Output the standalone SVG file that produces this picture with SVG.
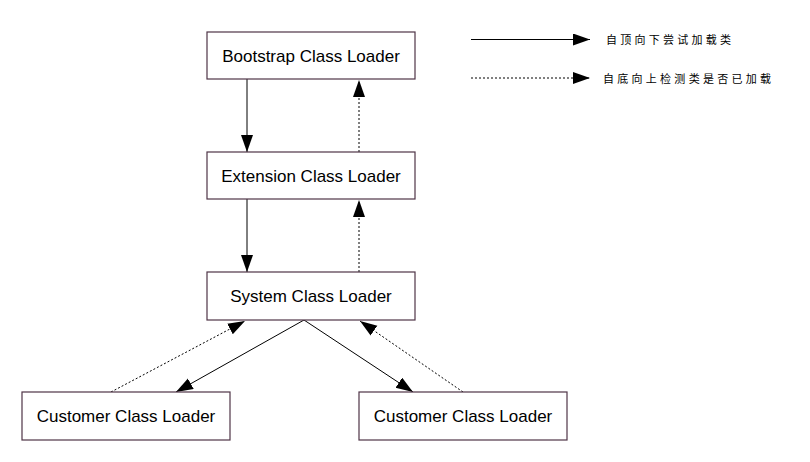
<svg xmlns="http://www.w3.org/2000/svg" width="810" height="462" viewBox="0 0 810 462">
<style>
.box{fill:#ffffff;stroke:#4f3447;stroke-width:1.2}
.lbl{font-family:"Liberation Sans",Arial,sans-serif;font-size:17px;fill:#000;text-anchor:middle}
.solid{stroke:#000;stroke-width:1;fill:none}
.dot{stroke:#000;stroke-width:1;fill:none;stroke-dasharray:2,2}
.cjk{font-family:"Noto Sans CJK SC","Noto Sans CJK JP",sans-serif;font-size:11px;fill:#000}
</style>
<defs>
<marker id="ah" markerUnits="userSpaceOnUse" markerWidth="18" markerHeight="13" refX="17" refY="6" orient="auto">
<path d="M0,0 L17,6 L0,12 z" fill="#000"/>
</marker>
</defs>
<rect width="810" height="462" fill="#fff"/>
<g id="connectors">
<line class="solid" x1="247" y1="79" x2="247" y2="152" marker-end="url(#ah)"/>
<line class="dot" x1="359" y1="152" x2="359" y2="80" marker-end="url(#ah)"/>
<line class="solid" x1="247" y1="199" x2="247" y2="272" marker-end="url(#ah)"/>
<line class="dot" x1="359" y1="272" x2="359" y2="200" marker-end="url(#ah)"/>
<line class="solid" x1="304" y1="320" x2="176" y2="392" marker-end="url(#ah)"/>
<line class="solid" x1="304" y1="320" x2="413" y2="392" marker-end="url(#ah)"/>
<line class="dot" x1="111" y1="392" x2="245" y2="321" marker-end="url(#ah)"/>
<line class="dot" x1="463" y1="392" x2="360" y2="321" marker-end="url(#ah)"/>
</g>
<g id="legend">
<line class="solid" x1="471" y1="39.5" x2="590" y2="39.5" marker-end="url(#ah)"/>
<text class="cjk" x="606" y="44" textLength="125" lengthAdjust="spacing">自顶向下尝试加载类</text>
<line class="dot" x1="471" y1="78" x2="590" y2="78" marker-end="url(#ah)"/>
<text class="cjk" x="603" y="83" font-size="12" textLength="168" lengthAdjust="spacing">自底向上检测类是否已加载</text>
</g>
<g id="bootstrap">
<rect class="box" x="207" y="32" width="208" height="47"/>
<text class="lbl" x="311" y="61.5">Bootstrap Class Loader</text>
</g>
<g id="extension">
<rect class="box" x="207" y="152" width="208" height="47"/>
<text class="lbl" x="311" y="181.5">Extension Class Loader</text>
</g>
<g id="system">
<rect class="box" x="207" y="272" width="208" height="48"/>
<text class="lbl" x="311" y="302">System Class Loader</text>
</g>
<g id="customer1">
<rect class="box" x="22" y="392" width="208" height="48"/>
<text class="lbl" x="126" y="422">Customer Class Loader</text>
</g>
<g id="customer2">
<rect class="box" x="359" y="392" width="208" height="48"/>
<text class="lbl" x="463" y="422">Customer Class Loader</text>
</g>
</svg>
